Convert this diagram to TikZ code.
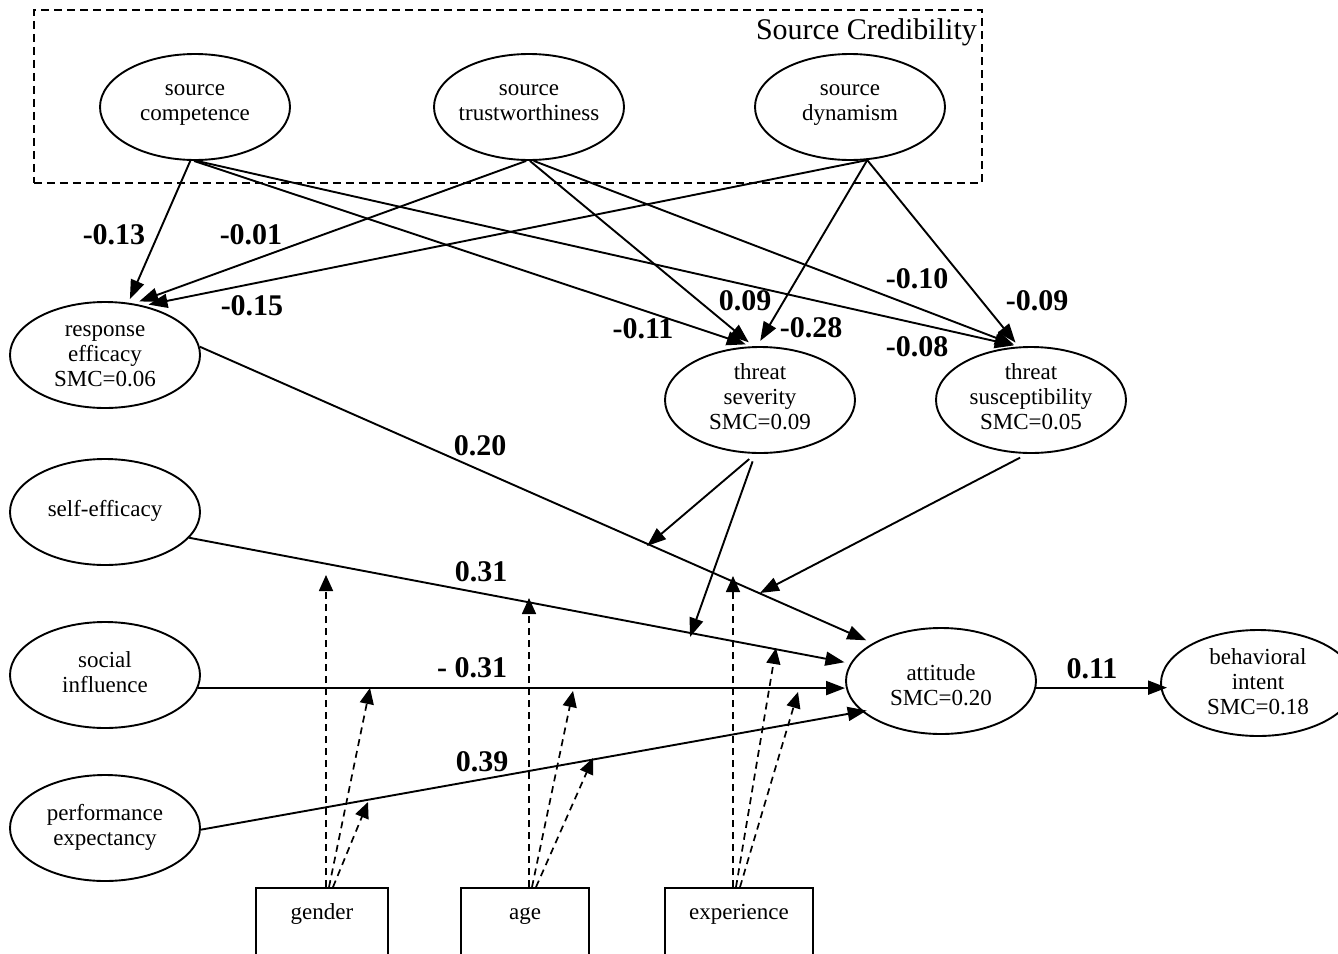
\documentclass[tikz,border=0pt]{standalone}
\usepackage{fontspec}
\setmainfont{Liberation Serif}
\usetikzlibrary{arrows.meta,calc,shapes.geometric}

% centred multi-line text that does not enlarge its ellipse
\newcommand{\elltext}[2][-6pt]{\smash{\makebox[0pt]{\raisebox{#1}{\begin{tabular}{@{}c@{}}#2\end{tabular}}}}}

\tikzset{
  latent/.style={ellipse, draw, line width=1.9pt, minimum width=190pt, minimum height=106pt,
    inner sep=0pt, font=\fontsize{23}{25}\selectfont},
  observed/.style={rectangle, draw, line width=1.9pt, minimum height=84pt, inner sep=0pt,
    font=\fontsize{23}{25}\selectfont},
  causal/.style={line width=1.9pt, -{Triangle[length=19pt,width=14pt]}},
  moderator/.style={line width=1.7pt, dash pattern=on 7pt off 5pt, -{Triangle[length=16pt,width=14pt]}},
  coef/.style={font=\fontsize{30}{32}\selectfont\bfseries, inner sep=0pt},
  groupbox/.style={draw, line width=1.7pt, dash pattern=on 8pt off 5pt, minimum width=948pt,
    minimum height=173pt, inner sep=0pt, anchor=north west},
}

\begin{document}
\begin{tikzpicture}[x=1pt,y=-1pt]
\useasboundingbox (0,0) rectangle (1338,953);

% source credibility group
\node[groupbox] (cred) at (33,9) {};
\node[font=\fontsize{30}{32}\selectfont, anchor=base east, inner sep=0pt] (credtitle) at (977,39) {Source Credibility};

\node[latent] (sc) at (195,107) {\elltext[-2.5pt]{source\\competence}};
\node[latent] (st) at (529,107) {\elltext[-2.5pt]{source\\trustworthiness}};
\node[latent] (sd) at (850,107) {\elltext[-2.5pt]{source\\dynamism}};

% constructs
\node[latent] (re) at (105,355) {\elltext[-8pt]{response\\efficacy\\SMC=0.06}};
\node[latent] (ts) at (760,400) {\elltext{threat\\severity\\SMC=0.09}};
\node[latent] (tsu) at (1031,400) {\elltext{threat\\susceptibility\\SMC=0.05}};
\node[latent] (se) at (105,512) {\elltext{self-efficacy}};
\node[latent] (si) at (105,675) {\elltext{social\\influence}};
\node[latent] (pe) at (105,828) {\elltext{performance\\expectancy}};
\node[latent] (att) at (941,681) {\elltext[-13pt]{attitude\\SMC=0.20}};
\node[latent, minimum width=194pt] (bi) at (1258,683) {\elltext[-8pt]{behavioral\\intent\\SMC=0.18}};

% moderators
\node[observed, minimum width=132pt] (gender) at (322,930) {\smash{\raisebox{11pt}{gender}}};
\node[observed, minimum width=128pt] (age) at (525,930) {\smash{\raisebox{11pt}{age}}};
\node[observed, minimum width=148pt] (exper) at (739,930) {\smash{\raisebox{11pt}{experience}}};

% credibility paths
\draw[causal, shorten >=4pt] (sc.-95) -- (re.66);
\draw[causal, shorten >=6pt] (sc.-91) -- (ts.99);
\draw[causal, shorten >=5pt] (sc.-88) -- (tsu.103);
\draw[causal, shorten >=6pt] (st.-93) -- (re.61);
\draw[causal, shorten >=6pt] (st.-89) -- (ts.97);
\draw[causal, shorten >=5pt] (st.-85) -- (tsu.103);
\draw[causal, shorten >=5pt] (sd.-72) -- (re.52);
\draw[causal, shorten >=6pt] (sd.-72) -- (ts.93);
\draw[causal, shorten >=5pt] (sd.-72) -- (tsu.103);

% paths to attitude and intent
\draw[causal, shorten >=7pt] (re.5) -- (att.151);
\draw[causal, shorten >=6pt] (se.-17) -- (att.169);
\draw[causal] (si.-8) -- (si.-8 -| att.west);
\draw[causal, shorten >=-5pt] (pe.-1) -- (att.201);
\draw[causal, shorten >=-7pt] (att.-4) -- (att.-4 -| bi.west);

% points where interaction arrows meet the paths
\coordinate (t1) at (647,546);
\coordinate (t2) at (690,637);
\coordinate (t3) at (760,593);
\coordinate (g1) at (326,575);
\coordinate (g2) at (370,688);
\coordinate (g3) at (368,802);
\coordinate (a1) at (529,598);
\coordinate (a2) at (573,691);
\coordinate (a3) at (593,758);
\coordinate (e1) at (733,576);
\coordinate (e2) at (776,648);
\coordinate (e3) at (798,692);

% threat interactions
\draw[causal, shorten <=8pt] (ts.-95) -- (t1);
\draw[causal, shorten <=8pt] (ts.-95) -- (t2);
\draw[causal, shorten <=8pt] (tsu.-94) -- (t3);

% moderating effects
\draw[moderator] ($(gender.north)+(4,0)$) -- (g1);
\draw[moderator] ($(gender.north)+(7,0)$) -- (g2);
\draw[moderator] ($(gender.north)+(11,0)$) -- (g3);
\draw[moderator] ($(age.north)+(4,0)$) -- (a1);
\draw[moderator] ($(age.north)+(7,0)$) -- (a2);
\draw[moderator] ($(age.north)+(11,0)$) -- (a3);
\draw[moderator] ($(exper.north)+(-6,0)$) -- (e1);
\draw[moderator] ($(exper.north)+(-3,0)$) -- (e2);
\draw[moderator] ($(exper.north)+(1,0)$) -- (e3);

% path coefficients
\node[coef] (c1) at (114,235) {-0.13};
\node[coef] (c2) at (251,235) {-0.01};
\node[coef] (c3) at (252,306) {-0.15};
\node[coef] (c4) at (643,329) {-0.11};
\node[coef] (c5) at (745,301) {0.09};
\node[coef] (c6) at (811,328) {-0.28};
\node[coef] (c7) at (917,279) {-0.10};
\node[coef] (c8) at (1037,301) {-0.09};
\node[coef] (c9) at (917,347) {-0.08};
\node[coef] (c10) at (480,446) {0.20};
\node[coef] (c11) at (481,572) {0.31};
\node[coef] (c12) at (472,668) {- 0.31};
\node[coef] (c13) at (482,762) {0.39};
\node[coef] (c14) at (1092,669) {0.11};
\end{tikzpicture}
\end{document}
